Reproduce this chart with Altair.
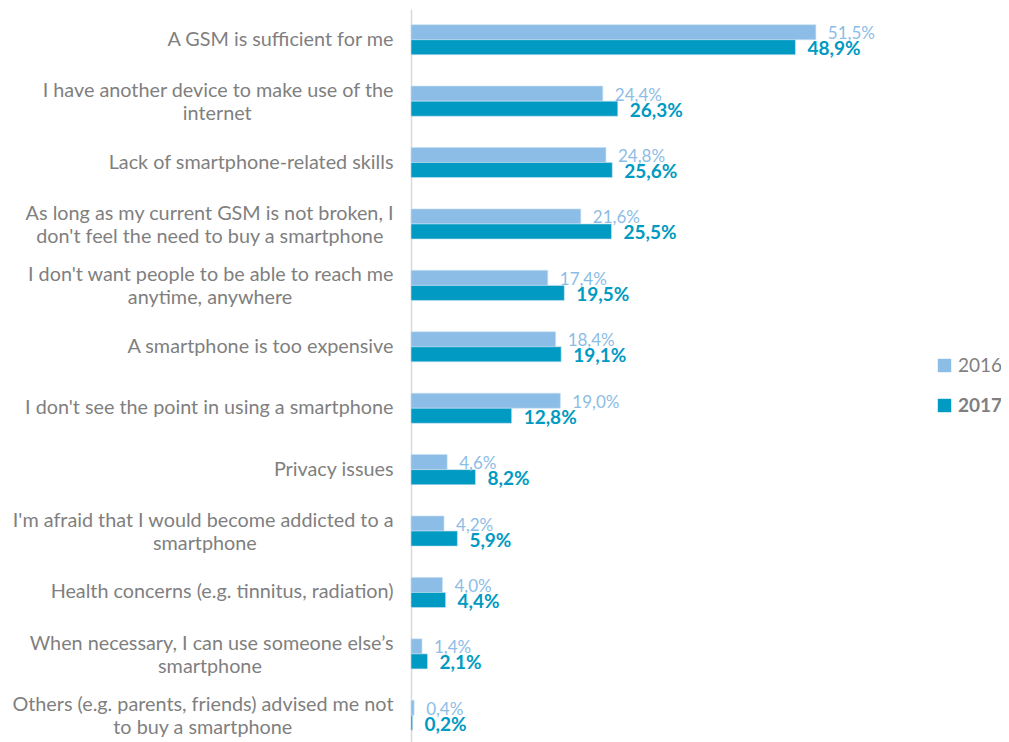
import altair as alt
import pandas as pd

NB = "\u00a0"
ZW = "\u200b"

categories = [
    "A GSM is sufficient for me",
    "I have another device to make use of the|internet",
    "Lack of smartphone-related skills",
    "As long as my current GSM is not broken, I|don't feel the need to buy a smartphone",
    "I don't want people to be able to reach me|anytime, anywhere",
    "A smartphone is too expensive",
    "I don't see the point in using a smartphone",
    "Privacy issues",
    "I'm afraid that I would become addicted to a|smartphone",
    "Health concerns (e.g. tinnitus, radiation)",
    "When necessary, I can use someone else\u2019s|smartphone",
    "Others (e.g. parents, friends) advised me not|to buy a smartphone",
]
# trailing non-breaking spaces so the second line of a label sits centred under the first
line2_pad = [0, 28, 0, 2, 20, 0, 0, 0, 27, 0, 26, 20]
v2016 = [51.5, 24.4, 24.8, 21.6, 17.4, 18.4, 19.0, 4.6, 4.2, 4.0, 1.4, 0.4]
v2017 = [48.9, 26.3, 25.6, 25.5, 19.5, 19.1, 12.8, 8.2, 5.9, 4.4, 2.1, 0.2]
years = ["2016", "2017"]
colors = ["#8CBDE6", "#009AC2"]

display = [c + (NB * p + ZW if p else "") for c, p in zip(categories, line2_pad)]

rows = []
for c, a, b in zip(display, v2016, v2017):
    rows.append({"cat": c, "year": "2016", "value": a})
    rows.append({"cat": c, "year": "2017", "value": b})
df = pd.DataFrame(rows)

FONT = "Lato"
GRAY = "#7F7F7F"

x = alt.X("value:Q", axis=None, scale=alt.Scale(domain=[0, 65], nice=False, zero=True))
y = alt.Y(
    "cat:N",
    sort=display,
    scale=alt.Scale(paddingInner=0.51, paddingOuter=0.255),
    axis=alt.Axis(
        title=None,
        labelExpr="split(datum.label, '|')",
        labelFont=FONT,
        labelFontSize=19.8,
        labelColor=GRAY,
        labelPadding=18,
        labelLineHeight=23,
        labelLimit=700,
        labelOffset={"condition": {"test": "indexof(datum.value, '|') >= 0", "value": -10}, "value": 0},
        ticks=False,
        domainColor="#D9D9D9",
        domainWidth=1.5,
        grid=False,
    ),
)
yoff = alt.YOffset("year:N", sort=years, scale=alt.Scale(paddingInner=0, paddingOuter=0))
color = alt.Color(
    "year:N",
    scale=alt.Scale(domain=years, range=colors),
    legend=alt.Legend(
        title=None,
        orient="none",
        legendX=524,
        legendY=347,
        symbolType="square",
        symbolSize=180,
        symbolStrokeWidth=0,
        labelFont=FONT,
        labelFontSize=19,
        labelColor=GRAY,
        labelFontWeight=alt.ExprRef("datum.label == '2017' ? 'bold' : 'normal'"),
        rowPadding=20,
        labelOffset=4,
    ),
)

bars = alt.Chart(df).mark_bar(stroke="#C9E1F3", strokeWidth=0.6).encode(x=x, y=y, yOffset=yoff, color=color)

lbl = "replace(format(datum.value, '.1f'), '.', ',') + '%'"
t16 = (
    alt.Chart(df)
    .transform_filter("datum.year == '2016'")
    .transform_calculate(lab=lbl)
    .mark_text(align="left", baseline="middle", dx=12, dy=2, font=FONT, fontSize=17, color=colors[0])
    .encode(x=x, y=y, yOffset=yoff, text="lab:N")
)
t17 = (
    alt.Chart(df)
    .transform_filter("datum.year == '2017'")
    .transform_calculate(lab=lbl)
    .mark_text(align="left", baseline="middle", dx=12, dy=2, font=FONT, fontSize=19, fontWeight="bold", color=colors[1])
    .encode(x=x, y=y, yOffset=yoff, text="lab:N")
)

chart = (
    alt.layer(bars, t16, t17)
    .properties(
        width=511,
        height=737,
        autosize=alt.AutoSizeParams(type="none"),
        padding={"left": 403, "top": 1, "right": 79, "bottom": 0},
    )
    .configure_view(stroke=None)
)

chart.save("out.html", embed_options={"renderer": "svg", "actions": False})
